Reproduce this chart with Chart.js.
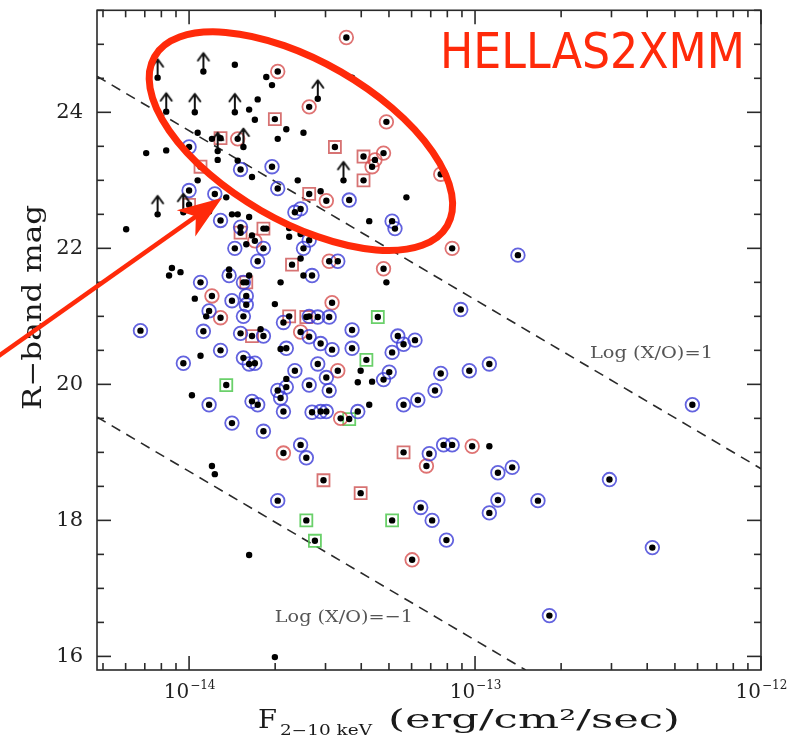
<!DOCTYPE html>
<html>
<head>
<meta charset="utf-8">
<script src="https://cdn.jsdelivr.net/npm/chart.js@4.4.0/dist/chart.umd.min.js"></script>
<style>
  html, body { margin: 0; padding: 0; background: #fff; }
  canvas { display: block; }
</style>
</head>
<body>
<canvas id="chart" width="794" height="741"></canvas>
<script>
// log10 F(2-10 keV) and R mag, one pair of arrays per class of source

// plain optical counterparts (black dot only)
const plainLogF = [-13.84, -13.73, -13.71, -13.76, -13.79, -13.77, -13.66, -13.60, -13.69, -13.97,
    -13.92, -14.15, -14.08, -13.90, -13.83, -13.97, -13.78, -13.62, -13.87, -13.54,
    -13.93, -13.85, -13.83, -13.79, -14.22, -13.65, -13.65, -13.78, -13.73, -13.61,
    -13.43, -13.24, -13.37, -13.80, -13.61, -14.06, -14.07, -14.03, -13.86, -13.79,
    -13.60, -13.68, -13.98, -13.70, -13.94, -13.75, -13.96, -13.68, -13.99, -13.66,
    -13.31, -13.40, -13.41, -13.36, -13.37, -12.95, -13.92, -13.91, -13.79, -13.70];
const plainR = [24.70, 24.52, 24.40, 24.19, 24.04, 23.89, 23.75, 23.70, 23.61, 23.70,
    23.61, 23.40, 23.44, 23.30, 23.29, 23.00, 23.05, 23.00, 22.75, 22.84,
    22.54, 22.50, 22.50, 22.46, 22.28, 22.30, 22.17, 22.19, 22.29, 22.21,
    24.51, 22.75, 22.40, 22.06, 21.85, 21.71, 21.60, 21.65, 21.69, 21.60,
    21.60, 21.50, 21.26, 21.18, 21.00, 20.81, 20.42, 20.52, 19.84, 20.08,
    21.50, 20.20, 20.03, 20.04, 19.70, 19.09, 18.80, 18.68, 17.49, 15.99];

// lower limits on R (dot with an upward arrow)
const limitLogF = [-14.11, -13.95, -14.08, -13.98, -13.84, -13.55, -13.90, -13.81, -14.11, -14.02, -13.46];
const limitR = [24.51, 24.60, 24.01, 24.00, 24.00, 24.20, 23.43, 23.49, 22.50, 22.53, 23.00];

// red squares
const redSqLogF = [-13.70, -13.89, -13.96, -14.00, -13.58, -13.74, -13.82, -13.49, -13.39, -13.39,
    -13.64, -13.80, -13.65, -13.59, -13.78, -13.25, -13.53, -13.40];
const redSqR = [23.90, 23.62, 23.20, 22.64, 22.80, 22.29, 22.23, 23.49, 23.35, 23.00,
    21.76, 21.50, 21.00, 20.99, 20.71, 19.00, 18.59, 18.40];

// red circles
const redCiLogF = [-13.69, -13.58, -13.83, -13.52, -13.77, -13.45, -13.31, -13.32, -13.35, -13.36,
    -13.12, -13.08, -13.51, -13.32, -13.50, -13.92, -13.89, -13.61, -13.48, -13.47,
    -13.67, -13.01, -13.17, -13.22];
const redCiR = [24.60, 24.08, 23.61, 22.70, 22.11, 25.10, 23.86, 23.40, 23.30, 23.20,
    23.09, 22.00, 21.81, 21.70, 21.20, 21.30, 20.98, 20.77, 20.20, 19.50,
    18.99, 19.09, 18.80, 17.42];

// green squares
const greenLogF = [-13.87, -13.34, -13.38, -13.44, -13.29, -13.59, -13.56];
const greenR = [19.99, 20.99, 20.36, 19.49, 18.00, 18.00, 17.70];

// blue circles
const blueLogF = [-14.00, -13.82, -13.71, -13.69, -14.00, -13.91, -13.63, -13.61, -13.89, -13.82,
    -13.58, -13.84, -13.44, -13.29, -13.28, -13.74, -13.60, -13.76, -13.86, -13.57,
    -13.96, -13.81, -13.80, -13.85, -13.80, -13.93, -13.81, -13.67, -13.58, -13.55,
    -14.17, -13.95, -13.82, -13.74, -13.58, -13.89, -13.81, -13.77, -13.79, -13.66,
    -13.54, -14.02, -13.63, -13.55, -13.69, -13.66, -13.68, -13.58, -13.52, -13.51,
    -13.93, -13.78, -13.76, -13.67, -13.57, -13.54, -13.52, -13.85, -13.74, -13.61,
    -13.59, -13.48, -12.85, -13.51, -13.05, -13.43, -13.50, -13.43, -13.27, -13.25,
    -13.21, -13.29, -13.32, -13.30, -13.12, -13.02, -12.95, -13.14, -13.20, -13.25,
    -13.41, -13.11, -13.08, -13.16, -12.92, -12.87, -13.19, -13.15, -12.92, -12.95,
    -12.78, -13.10, -12.24, -12.53, -12.38, -12.74, -13.69];
const blueR = [23.49, 23.16, 23.20, 22.88, 22.85, 22.80, 22.53, 22.58, 22.41, 22.31,
    22.12, 22.00, 22.71, 22.40, 22.29, 22.00, 22.00, 21.81, 21.60, 21.60,
    21.50, 21.50, 21.30, 21.23, 21.17, 21.08, 21.00, 20.91, 21.00, 20.99,
    20.79, 20.78, 20.75, 20.71, 20.70, 20.50, 20.39, 20.31, 20.30, 20.53,
    20.60, 20.31, 20.20, 20.30, 19.91, 19.96, 19.80, 19.99, 20.10, 19.91,
    19.70, 19.75, 19.70, 19.60, 19.59, 19.60, 19.60, 19.43, 19.31, 19.11,
    18.92, 21.81, 21.90, 20.99, 21.10, 20.80, 20.51, 20.53, 20.71, 20.59,
    20.65, 20.47, 20.07, 20.18, 20.16, 20.20, 20.30, 19.91, 19.77, 19.70,
    19.60, 19.11, 19.11, 18.98, 18.70, 18.78, 18.19, 18.00, 18.30, 18.11,
    18.29, 17.71, 19.70, 18.60, 17.60, 16.60, 18.29];

// Log(X/O) = +1 and -1 reference lines (end points)
const xoUpperLogF = [-14.322, -12.0];
const xoUpperR = [24.53, 18.76];
const xoLowerLogF = [-14.322, -12.823];
const xoLowerR = [19.52, 15.8];

// axis ticks
const xTickExps = [-14, -13, -12];
const yTicks = [16, 18, 20, 22, 24];

const toPts = (lf, r) => lf.map((v, i) => ({ x: Math.pow(10, v), y: r[i] }));

const allDots = [].concat(
    toPts(plainLogF, plainR), toPts(limitLogF, limitR), toPts(redSqLogF, redSqR),
    toPts(redCiLogF, redCiR), toPts(greenLogF, greenR), toPts(blueLogF, blueR));

// upward arrow drawn above a point (image is centred on the dot)
function makeArrowMark() {
    const c = document.createElement('canvas');
    c.width = 18; c.height = 50;
    const g = c.getContext('2d');
    g.strokeStyle = '#111';
    g.lineWidth = 2;
    g.lineCap = 'round';
    g.lineJoin = 'round';
    g.beginPath();
    g.moveTo(9, 22); g.lineTo(9, 7);
    g.moveTo(3.5, 14); g.lineTo(9, 6.5); g.lineTo(14.5, 14);
    g.stroke();
    return c;
}

function line(ctx, x1, y1, x2, y2) {
    ctx.beginPath();
    ctx.moveTo(x1, y1);
    ctx.lineTo(x2, y2);
    ctx.stroke();
}

function fitText(ctx, text, x, y, width) {
    const w = ctx.measureText(text).width;
    ctx.save();
    ctx.translate(x, y);
    ctx.scale(width / w, 1);
    ctx.textAlign = 'left';
    ctx.fillText(text, 0, 0);
    ctx.restore();
}

const SERIF = '"DejaVu Serif", "Liberation Serif", serif';

// frame, inward ticks, labels and the red highlight marks
const overlay = {
    id: 'overlay',
    afterDatasetsDraw(chart) {
        const { ctx, chartArea: a, scales: { x, y } } = chart;
        ctx.save();
        ctx.strokeStyle = '#2a2a2a';
        ctx.lineWidth = 1.6;
        ctx.strokeRect(a.left, a.top, a.right - a.left, a.bottom - a.top);

        for (let d = -15; d <= -12; d++) {
            for (let m = 1; m <= 9; m++) {
                const v = m * Math.pow(10, d);
                if (v < x.min * 0.999 || v > x.max * 1.001) continue;
                const px = x.getPixelForValue(v);
                const len = m === 1 ? 14 : 7;
                line(ctx, px, a.bottom, px, a.bottom - len);
                line(ctx, px, a.top, px, a.top + len);
            }
        }
        for (let v = 16; v <= 25.5; v += 0.5) {
            const py = y.getPixelForValue(v);
            const len = v % 2 === 0 ? 14 : 7;
            line(ctx, a.left, py, a.left + len, py);
            line(ctx, a.right, py, a.right - len, py);
        }

        // tick labels
        ctx.fillStyle = '#222';
        ctx.font = '21px ' + SERIF;
        ctx.textAlign = 'right';
        ctx.textBaseline = 'middle';
        yTicks.forEach(v => ctx.fillText(String(v), a.left - 14, y.getPixelForValue(v)));

        ctx.textAlign = 'left';
        ctx.textBaseline = 'alphabetic';
        xTickExps.forEach(e => {
            const px = x.getPixelForValue(Math.pow(10, e));
            ctx.font = '20px ' + SERIF;
            const w1 = ctx.measureText('10').width;
            ctx.font = '12px ' + SERIF;
            const exp = '\u2212' + String(-e);
            const w2 = ctx.measureText(exp).width;
            const x0 = px - (w1 + w2) / 2;
            ctx.font = '20px ' + SERIF;
            ctx.fillText('10', x0, a.bottom + 28);
            ctx.font = '12px ' + SERIF;
            ctx.fillText(exp, x0 + w1 + 1, a.bottom + 19);
        });

        // axis titles
        ctx.fillStyle = '#1a1a1a';
        ctx.font = '26px ' + SERIF;
        ctx.save();
        ctx.translate(a.left - 56, 410);
        ctx.rotate(-Math.PI / 2);
        fitText(ctx, 'R\u2212band mag', 0, 0, 205);
        ctx.restore();

        const by = a.bottom + 58;
        ctx.font = '26px ' + SERIF;
        fitText(ctx, 'F', 258, by, 19);
        ctx.font = '14px ' + SERIF;
        fitText(ctx, '2\u221210 keV', 280, by + 7, 92);
        ctx.font = '26px ' + SERIF;
        fitText(ctx, '(erg/cm\u00b2/sec)', 388, by, 292);

        // Log(X/O) labels
        ctx.fillStyle = '#555';
        ctx.font = '17px ' + SERIF;
        ctx.textBaseline = 'middle';
        fitText(ctx, 'Log (X/O)=1', x.getPixelForValue(Math.pow(10, -12.598)), y.getPixelForValue(20.45), 123);
        fitText(ctx, 'Log (X/O)=\u22121', x.getPixelForValue(Math.pow(10, -13.70)), y.getPixelForValue(16.57), 138);

        // red highlight: ellipse round the faint sources, arrow and survey name
        const red = '#ff2a0a';
        ctx.strokeStyle = red;
        ctx.fillStyle = red;
        ctx.lineWidth = 7;
        const cx = x.getPixelForValue(Math.pow(10, -13.609));
        const cy = y.getPixelForValue(23.576);
        ctx.beginPath();
        ctx.ellipse(cx, cy, 169, 80, Math.PI / 6, 0, Math.PI * 2);
        ctx.stroke();

        const tx = x.getPixelForValue(Math.pow(10, -13.885));
        const ty = y.getPixelForValue(22.74);
        const ang = Math.atan2(-157, 222);
        ctx.save();
        ctx.translate(tx, ty);
        ctx.rotate(ang);
        ctx.lineWidth = 4.5;
        line(ctx, -320, 0, -30, 0);
        ctx.beginPath();
        ctx.moveTo(0, 0);
        ctx.lineTo(-44, -16);
        ctx.lineTo(-32, 0);
        ctx.lineTo(-44, 16);
        ctx.closePath();
        ctx.fill();
        ctx.restore();

        ctx.font = '50px "DejaVu Sans", sans-serif';
        ctx.textBaseline = 'alphabetic';
        fitText(ctx, 'HELLAS2XMM', 440, 68, 305);
        ctx.restore();
    }
};

const ringBase = { pointStyle: 'circle', pointBackgroundColor: 'rgba(0,0,0,0)', pointBorderWidth: 1.8, showLine: false, order: 1 };

new Chart(document.getElementById('chart'), {
    type: 'scatter',
    data: {
        datasets: [
            { label: 'dots', data: allDots, pointRadius: 3.2, pointBackgroundColor: '#000', pointBorderWidth: 0, order: 0 },
            { label: 'limits', data: toPts(limitLogF, limitR), pointStyle: makeArrowMark(), pointRadius: 8, order: 1 },
            Object.assign({ label: 'blue', data: toPts(blueLogF, blueR), pointRadius: 6.8, pointBorderColor: 'rgba(60,60,215,0.8)' }, ringBase),
            Object.assign({ label: 'red circles', data: toPts(redCiLogF, redCiR), pointRadius: 6.8, pointBorderColor: 'rgba(215,80,80,0.8)' }, ringBase),
            Object.assign({}, ringBase, { label: 'red squares', data: toPts(redSqLogF, redSqR), pointStyle: 'rect', pointRadius: 8.5, pointBorderColor: 'rgba(205,80,80,0.8)' }),
            Object.assign({}, ringBase, { label: 'green squares', data: toPts(greenLogF, greenR), pointStyle: 'rect', pointRadius: 8.5, pointBorderColor: 'rgba(80,200,80,0.85)' }),
            { type: 'line', label: 'X/O=1', data: toPts(xoUpperLogF, xoUpperR), borderColor: '#2a2a2a', borderWidth: 1.6, borderDash: [10, 7], pointRadius: 0, fill: false, order: 2 },
            { type: 'line', label: 'X/O=-1', data: toPts(xoLowerLogF, xoLowerR), borderColor: '#2a2a2a', borderWidth: 1.6, borderDash: [10, 7], pointRadius: 0, fill: false, order: 2 }
        ]
    },
    options: {
        responsive: false,
        animation: false,
        devicePixelRatio: 1,
        layout: { padding: { top: 5, right: 33, left: 0, bottom: 0 } },
        plugins: { legend: { display: false }, tooltip: { enabled: false } },
        scales: {
            x: {
                type: 'logarithmic',
                min: Math.pow(10, -14.322),
                max: 1e-12,
                grid: { display: false, drawTicks: false },
                border: { display: false },
                ticks: { display: false },
                afterFit: s => { s.height = 71; }
            },
            y: {
                type: 'linear',
                min: 15.8,
                max: 25.5,
                grid: { display: false, drawTicks: false },
                border: { display: false },
                ticks: { display: false },
                afterFit: s => { s.width = 97; }
            }
        }
    },
    plugins: [overlay]
});
</script>
</body>
</html>
